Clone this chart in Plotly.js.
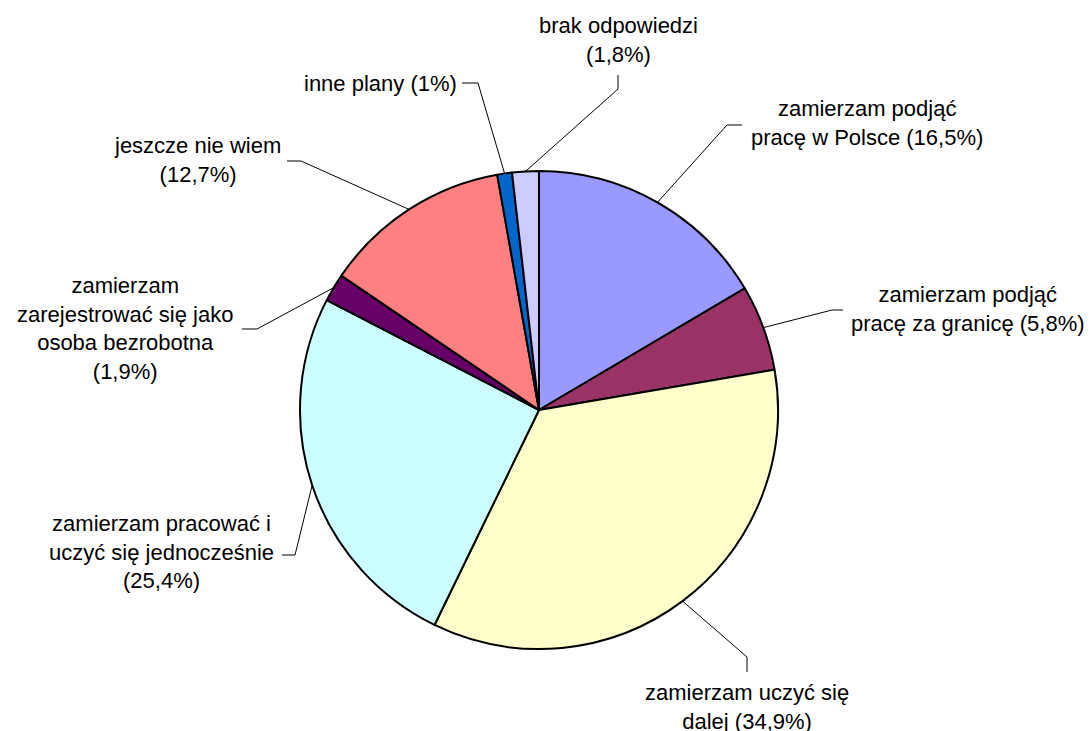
<!DOCTYPE html>
<html>
<head>
<meta charset="utf-8">
<script src="https://cdn.plot.ly/plotly-3.0.1.min.js"></script>
<style>
  html, body { margin: 0; padding: 0; background: #fff; }
  #chart { width: 1091px; height: 731px; }
</style>
</head>
<body>
<div id="chart"></div>
<script>
// ==================== dane ====================
const labels = [
  'zamierzam podjąć<br>pracę w Polsce (16,5%)',
  'zamierzam podjąć<br>pracę za granicę (5,8%)',
  'zamierzam uczyć się<br>dalej (34,9%)',
  'zamierzam pracować i<br>uczyć się jednocześnie<br>(25,4%)',
  'zamierzam<br>zarejestrować się jako<br>osoba bezrobotna<br>(1,9%)',
  'jeszcze nie wiem<br>(12,7%)',
  'inne plany (1%)',
  'brak odpowiedzi<br>(1,8%)'
];
const values = [16.5, 5.8, 34.9, 25.4, 1.9, 12.7, 1, 1.8];
const colors = ['#9999FF', '#993366', '#FFFFCC', '#CCFFFF', '#660066', '#FF8080', '#0066CC', '#CCCCFF'];

// ==================== układ (piksele) ====================
const W = 1091, H = 731;
const CX = 539, CY = 410, R = 239;
// punkt załamania linii, koniec linii, środek tekstu
const elbows = [[727, 125], [832, 310], [747, 657], [295, 555], [257, 329], [301, 161], [478, 83], [618, 89]];
const lineEnds = [[742, 125], [843, 310], [747, 672], [282, 555], [242, 329], [287, 161], [462, 83], [618, 75]];
const textPos = [[867, 123], [968, 309], [747, 707], [161, 552], [125, 329], [197, 160], [380, 83], [618, 40]];

const px = x => x / W;
const py = y => 1 - y / H;

const total = values.reduce((a, b) => a + b, 0);
let cum = 0;
const shapes = [];
const annotations = [];
values.forEach((v, i) => {
  const mid = (cum + v / 2) / total;
  cum += v;
  const ang = mid * 2 * Math.PI;
  const sx = CX + R * Math.sin(ang);
  const sy = CY - R * Math.cos(ang);
  const [ex, ey] = elbows[i];
  const [lx, ly] = lineEnds[i];
  shapes.push({
    type: 'path', xref: 'paper', yref: 'paper',
    path: `M ${px(sx)},${py(sy)} L ${px(ex)},${py(ey)} L ${px(lx)},${py(ly)}`,
    line: { color: '#000', width: 1 }
  });
  annotations.push({
    xref: 'paper', yref: 'paper',
    x: px(textPos[i][0]), y: py(textPos[i][1]),
    xanchor: 'center', yanchor: 'middle',
    text: labels[i], showarrow: false, align: 'center',
    font: { family: 'Liberation Sans, Arial, sans-serif', size: 22, color: '#000' }
  });
});

Plotly.newPlot('chart', [{
  type: 'pie',
  values: values,
  labels: labels,
  marker: { colors: colors, line: { color: '#000', width: 2 } },
  sort: false,
  direction: 'clockwise',
  rotation: 0,
  textinfo: 'none',
  hoverinfo: 'none',
  showlegend: false,
  domain: { x: [px(CX - R), px(CX + R)], y: [py(CY + R), py(CY - R)] }
}], {
  width: W, height: H,
  margin: { l: 0, r: 0, t: 0, b: 0 },
  paper_bgcolor: '#fff',
  showlegend: false,
  shapes: shapes,
  annotations: annotations
}, { staticPlot: true });
</script>
</body>
</html>
